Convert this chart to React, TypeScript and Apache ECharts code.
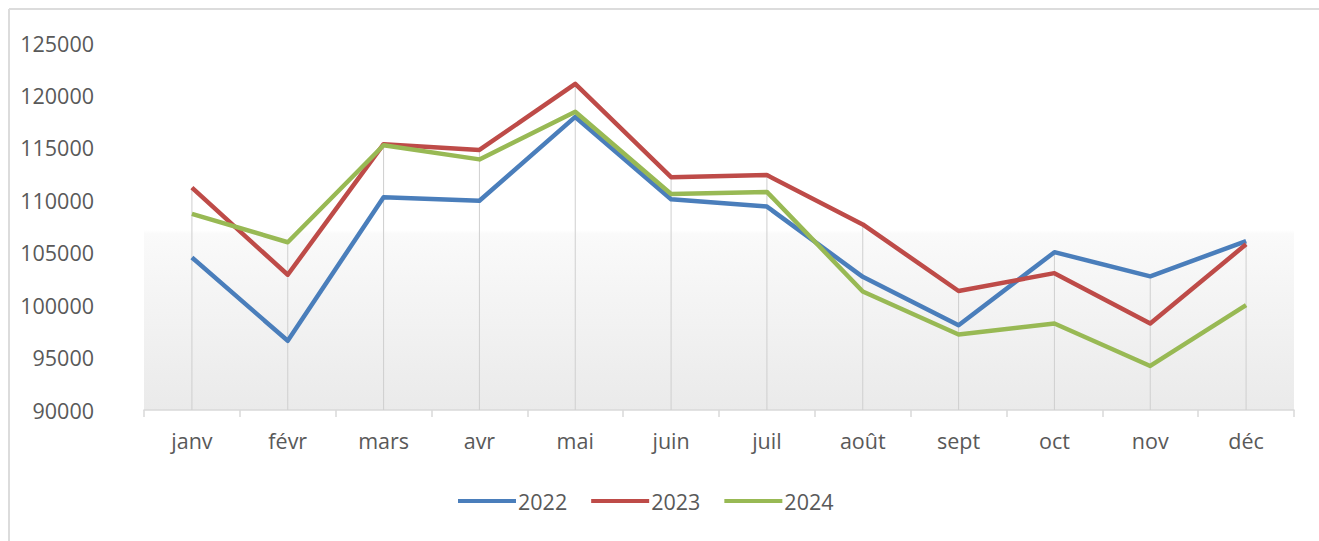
import React, { useEffect, useRef } from "react";
import * as echarts from "echarts";

const months = ["janv", "févr", "mars", "avr", "mai", "juin", "juil", "août", "sept", "oct", "nov", "déc"];
const seriesNames = ["2022", "2023", "2024"];
const values2022 = [104550, 96600, 110300, 109950, 117950, 110100, 109400, 102700, 98080, 105050, 102750, 106100];
const values2023 = [111200, 102900, 115350, 114800, 121100, 112200, 112400, 107700, 101350, 103050, 98250, 105800];
const values2024 = [108700, 106000, 115250, 113900, 118450, 110600, 110800, 101300, 97200, 98250, 94200, 100000];
const colors = ["#4A7EBB", "#BE4B48", "#98B954"];
const yMin = 90000;
const yMax = 125000;
const yInterval = 5000;

const FONT = "'Open Sans', Lato, sans-serif";

export default function App() {
  const ref = useRef<HTMLDivElement>(null);
  useEffect(() => {
    if (!ref.current) return;
    const chart = echarts.init(ref.current, null, { renderer: "svg" });
    const all = [values2022, values2023, values2024];
    const dropData = months.map((_, i) => [i, Math.max(values2022[i], values2023[i], values2024[i])]);
    chart.setOption({
      animation: false,
      backgroundColor: "#ffffff",
      textStyle: { fontFamily: FONT },
      graphic: [
        { type: "line", shape: { x1: 1, y1: 1, x2: 1311, y2: 1 }, style: { stroke: "#dcdcdc", lineWidth: 2 } },
        { type: "line", shape: { x1: 1, y1: 1, x2: 1, y2: 533 }, style: { stroke: "#dcdcdc", lineWidth: 2 } },
      ],
      grid: {
        left: 136,
        right: 25,
        top: 35,
        bottom: 131,
        show: true,
        borderWidth: 0,
        backgroundColor: {
          type: "linear",
          x: 0,
          y: 0,
          x2: 0,
          y2: 1,
          colorStops: [
            { offset: 0, color: "#ffffff" },
            { offset: 0.51, color: "#ffffff" },
            { offset: 0.52, color: "#fafafa" },
            { offset: 1, color: "#eaeaea" },
          ],
        },
      },
      legend: {
        data: seriesNames,
        left: 445,
        top: 477,
        icon: "rect",
        itemWidth: 58,
        itemHeight: 4,
        itemGap: 24,
        textStyle: { fontFamily: FONT, fontSize: 21.5, color: "#595959", padding: [0, 0, 0, -3] },
      },
      xAxis: {
        type: "category",
        data: months,
        boundaryGap: true,
        axisLine: { show: true, lineStyle: { color: "#d9d9d9", width: 1.5 } },
        axisTick: { show: true, length: 7, lineStyle: { color: "#d9d9d9", width: 1.5 } },
        axisLabel: { fontFamily: FONT, fontSize: 21.5, color: "#595959", margin: 19 },
        splitLine: { show: false },
      },
      yAxis: {
        type: "value",
        min: yMin,
        max: yMax,
        interval: yInterval,
        axisLine: { show: false },
        axisTick: { show: false },
        splitLine: { show: false },
        axisLabel: {
          fontFamily: FONT,
          fontSize: 21.5,
          color: "#595959",
          margin: 50,
          formatter: (v: number) => String(v),
        },
      },
      series: [
        {
          type: "custom",
          name: "drop",
          z: 1,
          silent: true,
          data: dropData,
          renderItem: (params: any, api: any) => {
            const top = api.coord([api.value(0), api.value(1)]);
            const bottom = api.coord([api.value(0), yMin]);
            return {
              type: "line",
              shape: { x1: top[0], y1: top[1], x2: bottom[0], y2: bottom[1] },
              style: { stroke: "#cfcfcf", lineWidth: 1 },
            };
          },
        },
        ...all.map((vals, k) => ({
          type: "line",
          name: seriesNames[k],
          data: vals,
          symbol: "none",
          z: 2 + k,
          color: colors[k],
          lineStyle: { color: colors[k], width: 4.5, join: "round" },
        })),
      ],
    });
    return () => chart.dispose();
  }, []);
  return (
    <div
      ref={ref}
      style={{
        position: "fixed",
        left: 8,
        top: 8,
        width: 1311,
        height: 533,
      }}
    />
  );
}
